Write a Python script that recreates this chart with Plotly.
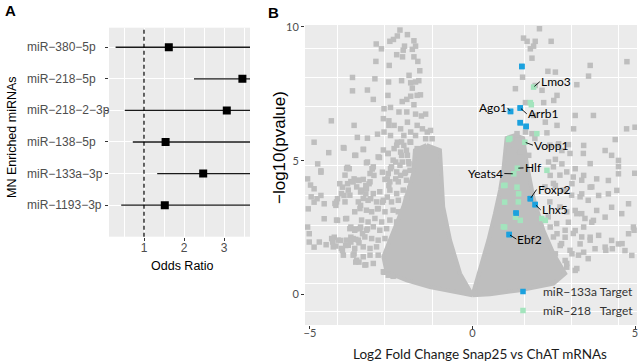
import plotly.graph_objects as go

# ---------------- Panel A data (forest plot) ----------------
mirnas = ["miR\u22121193\u22123p", "miR\u2212133a\u22123p", "miR\u2212138\u22125p",
          "miR\u2212218\u22122\u22123p", "miR\u2212218\u22125p", "miR\u2212380\u22125p"]
cat_pos = [1, 2, 3, 4, 5, 6]
odds_ratio = [1.52, 2.48, 1.54, 3.07, 3.46, 1.62]
ci_low = [0.43, 1.33, 0.72, 0.52, 2.25, 0.29]
ci_high = [4.6, 5.2, 4.4, 6.0, 5.5, 4.8]   # upper limits run past the visible range
ref_odds = 1.0
a_xticks = [1, 2, 3]

# ---------------- Panel B data (volcano plot) ----------------
# solid cores of the cloud (outline)
left_core_x = [-1.41, -1.0, -0.9, -0.69, -0.38, 0.0, -1.31, -2.02, -2.64, -2.74, -2.54,
               -2.13, -1.82, -1.77]
left_core_y = [5.58, 5.39, 3.27, 2.03, 0.78, -0.03, 0.28, 0.53, 0.84, 1.41, 2.03,
               3.27, 4.52, 5.39]
right_core_x = [0.0, 0.23, 0.49, 0.69, 0.85, 0.95, 1.0, 1.05, 1.3, 1.56, 1.67, 1.87, 2.18,
                2.49, 2.85, 2.49, 1.46, 0.54]
right_core_y = [-0.03, 0.91, 2.03, 3.02, 3.9, 4.64, 5.39, 5.85, 5.95, 5.85, 4.89, 3.65, 2.4,
                1.53, 0.78, 0.41, 0.16, 0.01]

# scattered genes outside the solid cores
grey_x = [
    -2.23, -2.31, -2.43, -2.54, -2.0, -1.8, -1.75, -1.85, -2.09, -2.13, -2.96, -2.8, -2.97,
    -2.56, -2.33, -2.15, -1.8, -1.68, -1.62, -1.95, -1.75, -1.9, -2.18, -1.65, -1.85, -1.6,
    -1.7, -2.16, -2.02, -1.9, -1.8, -2.26, -2.02, -1.75, -1.44, -1.57, -3.69, -3.0, -3.69,
    -3.23, -3.05, -2.58, -2.6, -2.72, -2.52, -2.74, -2.57, -3.64, -4.34, -4.87, -4.42, -3.95,
    -3.59, -3.54, -3.35, -3.23, -2.92, -2.74, -2.6, -2.86, -3.23, -3.08, -3.84, -4.76, -4.66,
    -2.41, -2.21, -2.0, -2.11, -1.9, -1.7, -1.75, -1.54, -1.39, -1.29, -1.44, -1.24, -2.31,
    -2.11, -1.9, -1.7, -2.0, -2.21, -2.41, -2.36, -2.16, -1.95, -2.52, -2.57, -2.72,
    -5.07, -4.66, -4.87, -5.05, -5.07, -5.02, -5.02, -4.87, -4.71, -4.5, -4.3, -4.25, -4.2,
    -4.05, -4.0, -3.9, -3.74, -3.59, -3.49, -3.64, -3.59, -3.49, -3.28, -4.56, -4.15, -3.9,
    -4.2, -4.15, -3.95, -4.0, -3.84, -3.74, -3.64, -3.49, -3.28, -3.18, -3.79, -3.03, -3.08,
    -3.44, -3.28, -3.13, -3.44, -3.74, -3.59, -3.44, -3.23, -3.38, -3.74, -2.92, -2.77,
    -2.62, -2.57, -2.36, -2.21, -2.06, -2.62, -2.77, -2.52, -2.72, -2.57, -2.41, -4.66,
    -4.87, -4.56, -4.78, -4.98, -4.96,
    2.06, 1.57, 1.68, 1.93, 2.42, 1.88, 1.78, 1.83, 1.54, 2.32, 2.55, 3.62, 4.75, 3.57, 3.21,
    1.32, 1.93, 2.14, 2.6, 2.5, 2.19, 1.63, 1.88, 3.16, 3.72, 2.24, 2.6, 3.11, 4.74, 1.63,
    1.83, 2.29, 1.37, 1.22, 1.42, 1.17, 1.32, 1.47, 1.12, 1.27, 1.06, 1.52, 1.73, 2.65, 2.95,
    3.42, 4.39, 2.75, 4.08, 4.28, 4.49, 2.34, 2.55,
    2.75, 3.16, 3.42, 3.82, 4.18, 4.49, 4.49, 2.39, 2.55, 2.85, 3.06, 3.36, 3.62, 3.88, 4.18,
    4.44, 4.8, 4.95, 4.59, 4.28, 4.08, 3.82, 3.67, 3.36, 3.16, 2.95, 3.16, 3.42, 3.62, 3.88,
    4.08, 4.28, 4.49, 4.69, 4.9, 3.77, 3.42, 3.31, 3.06, 2.85, 2.55, 2.7, 2.39, 2.6, 2.85,
    2.9, 3.16, 4.1, 4.3, 4.6, 4.8, 4.97, 4.99, 5.0]
grey_y = [
    9.88, 9.66, 9.53, 9.46, 9.71, 9.48, 9.28, 9.16, 9.28, 9.13, 9.36, 9.18, 8.71,
    8.56, 8.96, 8.88, 8.88, 8.71, 8.36, 8.19, 7.94, 7.91, 7.99, 7.99, 7.71, 7.46,
    7.44, 7.21, 7.29, 7.41, 7.09, 6.82, 6.82, 6.74, 6.74, 6.67, 8.11, 8.06, 7.61,
    7.64, 7.29, 7.94, 7.44, 6.94, 6.99, 6.57, 6.49, 6.32, 6.49, 5.69, 5.3, 5.47,
    5.2, 5.87, 5.42, 5.84, 5.99, 5.4, 5.27, 5.12, 4.95, 4.7, 4.75, 4.88, 4.62,
    6.32, 6.19, 6.44, 5.94, 6.07, 6.32, 5.94, 6.19, 6.07, 6.13, 5.82, 5.82, 5.69,
    5.57, 5.69, 5.45, 5.2, 5.32, 5.45, 4.95, 4.95, 4.88, 5.94, 6.32, 6.07,
    4.32, 4.57, 3.95, 3.2, 2.52, 2.27, 1.96, 1.77, 1.96, 1.86, 1.96, 2.14, 1.81,
    2.02, 1.64, 1.83, 1.96, 2.06, 1.93, 1.52, 1.21, 1.21, 1.11, 2.83, 2.77, 2.83,
    3.33, 3.58, 3.7, 4.01, 4.14, 4.22, 4.32, 4.26, 4.07, 4.14, 4.7, 4.45, 4.7,
    3.83, 3.76, 3.58, 3.33, 2.52, 2.45, 2.52, 2.45, 2.27, 2.14, 3.2, 3.45,
    3.64, 4.07, 4.32, 4.45, 4.57, 4.32, 4.57, 4.7, 0.83, 0.77, 0.71, 3.7,
    3.45, 3.39, 3.58, 4.09, 3.65,
    9.93, 9.58, 9.46, 9.46, 9.46, 9.28, 9.18, 8.83, 8.12, 8.34, 8.31, 8.56, 8.7, 8.16, 7.84,
    7.69, 7.81, 7.63, 7.44, 7.25, 7.17, 7.17, 6.69, 6.69, 6.69, 6.44, 6.32, 6.19, 6.19, 6.07,
    6.01, 6.04, 6.01, 5.82, 5.76, 5.63, 5.51, 5.32, 5.38, 5.2, 5.13, 5.07, 5.2, 5.63, 5.6,
    5.57, 5.79, 5.38, 5.38, 5.2, 5.01, 4.95, 5.05,
    4.88, 4.7, 4.45, 4.32, 4.26, 4.78, 4.51, 4.45, 4.07, 3.89, 4.14, 3.76, 4.01, 3.7, 3.76,
    3.89, 3.39, 2.52, 3.02, 3.26, 2.89, 3.14, 2.7, 3.02, 3.14, 2.7, 2.39, 2.52, 2.14, 2.21,
    1.77, 2.02, 1.89, 1.64, 1.46, 1.71, 1.58, 1.89, 1.52, 1.27, 1.52, 1.83, 2.52, 2.27, 2.14,
    1.02, 0.9, 1.65, 1.71, 1.9, 2.27, 2.4, 4.53, 6.25]

# semi-dense fringe of the left lobe
left_fringe_x = [
    -3.97, -2.33, -2.18, -1.92, -3.62, -3.36, -2.9, -2.59, -2.44, -2.18, -2.03, -3.87, -3.26,
    -3.05, -2.49, -2.23, -1.97, -3.92, -3.15, -2.59, -2.33, -2.08, -1.92, -4.08, -3.67, -3.51,
    -3.36, -3.15, -2.69, -2.54, -2.28, -2.03, -4.18, -4.03, -3.82, -3.77, -3.56, -3.41, -3.26,
    -3.05, -2.85, -2.54, -2.33, -2.13, -1.92, -4.23, -3.92, -3.51, -3.36, -3.21, -2.95, -2.74,
    -2.49, -2.28, -2.03, -3.62, -3.46, -3.26, -3.1, -2.9, -2.69, -2.44, -2.28, -4.18, -3.87,
    -3.41, -3.21, -3.0, -2.79, -2.54, -2.33, -3.77, -3.62, -3.46, -3.26, -3.05, -2.85, -2.64,
    -4.33, -4.13, -3.87, -3.67, -3.51, -3.31, -3.1, -2.9, -2.69, -4.28, -4.03, -3.82, -3.62,
    -3.36, -3.15, -2.95, -3.97, -3.67, -3.36, -3.15, -2.9, -3.56, -3.31, -3.05, -2.74, -2.59,
    -2.44]
left_fringe_y = [
    5.49, 5.58, 5.7, 5.7, 5.2, 5.42, 5.14, 5.27, 5.02, 5.2, 5.39, 4.71, 4.92,
    4.77, 4.77, 4.83, 4.96, 4.46, 4.52, 4.52, 4.58, 4.52, 4.64, 4.14, 4.21, 4.27,
    4.3, 4.21, 4.3, 4.21, 4.21, 4.27, 3.46, 3.77, 3.9, 3.71, 4.02, 3.9, 3.96,
    3.77, 3.84, 3.9, 3.77, 3.9, 3.96, 3.4, 3.46, 3.46, 3.59, 3.52, 3.46, 3.52,
    3.46, 3.52, 3.59, 3.09, 3.21, 3.15, 3.09, 3.21, 3.09, 3.15, 3.09, 2.78, 2.84,
    2.78, 2.71, 2.84, 2.71, 2.78, 2.71, 2.46, 2.4, 2.46, 2.4, 2.53, 2.4, 2.46,
    2.09, 2.03, 2.03, 2.09, 2.03, 2.15, 2.09, 2.03, 2.09, 1.78, 1.72, 1.84, 1.72,
    1.78, 1.72, 1.78, 1.47, 1.47, 1.41, 1.47, 1.47, 1.28, 1.1, 1.16, 0.85, 0.72,
    0.68]

# semi-dense fringe of the right lobe
right_fringe_x = [1.92, 2.38, 2.64, 3.0, 3.41, 3.62, 2.49, 2.69, 2.9, 3.1, 3.36, 3.67, 2.49,
                  2.23, 2.79, 3.05, 3.31, 3.56, 2.38, 2.69, 2.9, 3.21, 3.46, 3.72, 2.33, 2.59,
                  2.85, 3.1, 3.36, 3.62, 2.49, 2.74, 3.0, 3.26, 3.56, 2.9, 3.21]
right_fringe_y = [5.83, 5.58, 5.58, 5.27, 5.27, 4.89, 4.77, 4.46, 4.58, 4.39, 4.27, 4.02, 4.15,
                  4.02, 3.9, 3.71, 3.65, 3.52, 3.46, 3.27, 3.09, 3.02, 2.84, 2.77, 2.9, 2.65,
                  2.4, 2.28, 2.15, 2.03, 2.15, 1.9, 1.65, 1.47, 1.34, 1.16, 0.97]

# miR-133a targets (blue) and miR-218 targets (green)
mir133_x = [1.52, 1.17, 1.47, 1.47, 1.65, 1.78, 1.93, 1.34, 1.13]
mir133_y = [8.52, 6.84, 6.97, 6.42, 6.28, 3.58, 3.36, 3.04, 2.24]
mir218_x = [1.88, 1.78, 1.81, 1.98, 1.11, 1.61, 1.27, 1.38, 2.29, 0.96, 1.42, 1.37, 0.99,
            1.47, 1.32, 0.99, 2.24, 1.15, 1.0, 1.41, 0.95, 2.13]
mir218_y = [7.75, 7.17, 7.09, 6.01, 5.79, 5.69, 4.51, 4.72, 4.64, 4.07, 3.76, 4.01, 3.45,
            2.77, 2.89, 2.52, 2.77, 5.83, 4.08, 3.46, 2.53, 2.84]

# labelled genes: point, label position, label side
genes = ["Lmo3", "Ago1", "Arrb1", "Vopp1", "Yeats4", "Hlf", "Foxp2", "Lhx5", "Ebf2"]
gene_x = [1.88, 1.17, 1.47, 1.61, 1.27, 1.38, 1.78, 1.93, 1.13]
gene_y = [7.75, 6.84, 6.97, 5.69, 4.51, 4.72, 3.58, 3.36, 2.24]
label_x = [2.07, 1.08, 1.67, 1.86, 0.98, 1.57, 1.97, 2.1, 1.35]
label_y = [7.95, 6.97, 6.75, 5.58, 4.52, 4.73, 3.92, 3.16, 2.07]
label_side = ["left", "right", "left", "left", "right", "left", "left", "left", "left"]

b_xticks = [-5, 0, 5]
b_yticks = [0, 5, 10]

GREY = "#BEBEBE"
BLUE = "#1BA1DE"
GREEN = "#A3E4BD"
PANEL_BG = "#EBEBEB"
TICK_GREY = "#4D4D4D"
ARIAL = "Liberation Sans, Arial, sans-serif"
HUMAN = "Lato, Open Sans, sans-serif"

fig = go.Figure()

# Panel A
fig.add_trace(go.Scatter(
    x=odds_ratio, y=cat_pos, mode="markers", xaxis="x", yaxis="y",
    marker=dict(symbol="square", size=8, color="black"),
    error_x=dict(type="data", symmetric=False,
                 array=[h - o for h, o in zip(ci_high, odds_ratio)],
                 arrayminus=[o - l for o, l in zip(odds_ratio, ci_low)],
                 color="#1a1a1a", thickness=1.3, width=0),
    showlegend=False, hoverinfo="skip"))

# Panel B
for cx, cy in ((left_core_x, left_core_y), (right_core_x, right_core_y)):
    fig.add_trace(go.Scatter(x=cx + cx[:1], y=cy + cy[:1], mode="lines", fill="toself",
                             fillcolor=GREY, line=dict(color=GREY, width=4),
                             xaxis="x2", yaxis="y2", showlegend=False, hoverinfo="skip"))
fig.add_trace(go.Scatter(x=grey_x + left_fringe_x + right_fringe_x,
                         y=grey_y + left_fringe_y + right_fringe_y,
                         mode="markers", xaxis="x2", yaxis="y2",
                         marker=dict(symbol="square", size=5.5, color=GREY),
                         showlegend=False, hoverinfo="skip"))
fig.add_trace(go.Scatter(x=mir133_x, y=mir133_y, mode="markers", xaxis="x2", yaxis="y2",
                         name="miR\u2212133a Target",
                         marker=dict(symbol="square", size=5.5, color=BLUE)))
fig.add_trace(go.Scatter(x=mir218_x, y=mir218_y, mode="markers", xaxis="x2", yaxis="y2",
                         name="miR\u2212218\u00a0\u00a0\u00a0Target",
                         marker=dict(symbol="square", size=5.5, color=GREEN)))
# redraw blue above green
fig.add_trace(go.Scatter(x=mir133_x, y=mir133_y, mode="markers", xaxis="x2", yaxis="y2",
                         marker=dict(symbol="square", size=5.5, color=BLUE),
                         showlegend=False, hoverinfo="skip"))

annotations = []
# gene labels with leader lines
for g, gx, gy, lx, ly, side in zip(genes, gene_x, gene_y, label_x, label_y, label_side):
    annotations.append(dict(
        x=gx, y=gy, ax=lx, ay=ly, xref="x2", yref="y2", axref="x2", ayref="y2",
        text=g, showarrow=True, arrowhead=0, arrowwidth=0.9, arrowcolor="black",
        standoff=1, xanchor=side, yanchor="middle", borderpad=0,
        font=dict(family=HUMAN, size=12, color="black")))
# panel A category labels (left aligned)
for name, pos in zip(mirnas, cat_pos):
    annotations.append(dict(x=25 / 640, y=pos, xref="paper", yref="y", text=name,
                            showarrow=False, xanchor="left", yanchor="middle",
                            font=dict(family=ARIAL, size=12, color=TICK_GREY)))
# titles
def title(x_px, y_px, text, size, family, angle=0, color="black"):
    return dict(x=x_px / 640, y=1 - y_px / 363, xref="paper", yref="paper", text=text,
                textangle=angle, showarrow=False, xanchor="center", yanchor="middle",
                font=dict(family=family, size=size, color=color))

annotations += [
    title(12, 137, "MN Enriched miRNAs", 12.5, ARIAL, -90),
    title(182, 266, "Odds Ratio", 12.5, ARIAL),
    title(10, 11, "<b>A</b>", 15, ARIAL),
    title(273, 12, "<b>B</b>", 15, ARIAL),
    title(279, 148, "\u2212log10(pvalue)", 17, ARIAL, -90),
    title(480, 354, "Log2 Fold Change Snap25 vs ChAT mRNAs", 13.5, HUMAN, 0, "#1a1a1a"),
]

fig.update_layout(
    width=640, height=363, margin=dict(l=0, r=0, t=0, b=0, autoexpand=False),
    paper_bgcolor="white", plot_bgcolor=PANEL_BG,
    annotations=annotations,
    shapes=[dict(type="line", xref="x", yref="y domain", x0=ref_odds, x1=ref_odds, y0=0, y1=1,
                 line=dict(color="black", width=1.2, dash="4px,3px"), layer="above")],
    xaxis=dict(domain=[109 / 640, 250 / 640], range=[0.125, 3.65], tickvals=a_xticks,
               ticks="outside", ticklen=3, tickcolor="#333", ticklabelstandoff=-3,
               tickfont=dict(family=ARIAL, size=12, color=TICK_GREY),
               showgrid=True, gridcolor="white", gridwidth=1, zeroline=False, showline=False,
               minor=dict(tickmode="array", tickvals=[0.5, 1.5, 2.5, 3.5], showgrid=True,
                          gridcolor="white", gridwidth=0.5, ticks=""),
               anchor="y", fixedrange=True),
    yaxis=dict(domain=[1 - 236.7 / 363, 1 - 27.7 / 363], range=[0, 6.62], tickvals=cat_pos,
               showticklabels=False, ticks="outside", ticklen=3, tickcolor="#333",
               showgrid=True, gridcolor="white", gridwidth=1, zeroline=False, showline=False,
               anchor="x", fixedrange=True),
    xaxis2=dict(domain=[305 / 640, 637 / 640], range=[-5.15, 5.06], tickvals=b_xticks,
                ticks="outside", ticklen=3, tickcolor="#333", ticklabelstandoff=-5,
                tickfont=dict(family=HUMAN, size=11, color=TICK_GREY),
                showgrid=False, zeroline=False, showline=False,
                minor=dict(tickmode="array", tickvals=[-4.14, -2.69, -1.23, 0.17, 1.6, 3.05, 4.49],
                           showgrid=True, gridcolor="white", gridwidth=1, ticks=""),
                anchor="y2", fixedrange=True),
    yaxis2=dict(domain=[1 - 325 / 363, 1 - 25 / 363], range=[-1.14, 10.07], tickvals=b_yticks,
                ticks="outside", ticklen=3, tickcolor="#333",
                tickfont=dict(family=HUMAN, size=11, color=TICK_GREY),
                showgrid=False, zeroline=False, showline=False,
                minor=dict(tickmode="array",
                           tickvals=[9.19, 8.09, 7.01, 5.93, 4.83, 3.71, 2.59, 1.54, 0.41, -0.65],
                           showgrid=True, gridcolor="white", gridwidth=1, ticks=""),
                anchor="x2", fixedrange=True),
    legend=dict(x=503 / 640, y=1 - 277 / 363, xanchor="left", yanchor="top",
                bgcolor="rgba(0,0,0,0)", font=dict(family=HUMAN, size=12, color="#333"),
                itemsizing="trace", tracegroupgap=0),
)

fig.write_html("out.html", config={"displayModeBar": False},
               post_script="document.body.style.margin='0px';document.body.style.overflow='hidden';")
